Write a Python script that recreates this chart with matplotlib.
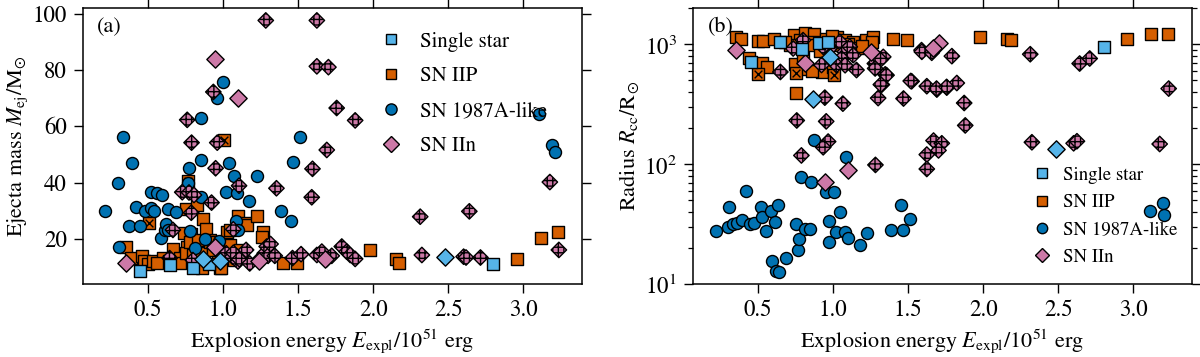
import matplotlib
matplotlib.use("Agg")
import matplotlib.pyplot as plt
from matplotlib.lines import Line2D
import numpy as np

plt.rcParams['font.family'] = ['STIXGeneral', 'DejaVu Serif']
plt.rcParams['mathtext.fontset'] = 'stix'
plt.rcParams['hatch.linewidth'] = 1.0

C_STAR = '#56B4E9'
C_IIP = '#D55E00'
C_87A = '#0072B2'
C_IIN = '#CC79A7'

# ---------------- Panel (a): ejecta mass ----------------
a_star_sq_x = [0.45, 0.645, 0.80, 0.91, 2.80]
a_star_sq_y = [8.6, 10.6, 9.7, 11.0, 11.1]
a_star_dia_x = [0.866, 0.98, 2.48]
a_star_dia_y = [13.0, 12.3, 13.7]

a_iip_x = [0.356, 0.385, 0.458, 0.474, 0.50, 0.536, 0.598, 0.669, 0.714, 0.711,
           0.738, 0.751, 0.758, 0.756, 0.789, 0.778, 0.80, 0.825, 0.834, 0.845,
           0.856, 0.869, 0.885, 0.858, 0.911, 0.914, 0.936, 0.956, 0.967, 0.98,
           0.989, 1.011, 1.027, 1.045, 1.047, 1.074, 1.102, 1.111, 1.145, 1.158,
           1.225, 1.269, 1.258, 1.402, 1.491, 1.976, 2.153, 2.175, 2.958, 3.118,
           3.229, 0.64, 0.56, 1.12]
a_iip_y = [17.0, 13.2, 14.0, 12.3, 11.0, 12.3, 13.1, 16.5, 13.1, 11.5,
           22.0, 30.5, 17.3, 14.9, 21.8, 19.0, 14.3, 32.1, 19.6, 10.7,
           14.9, 27.0, 23.6, 9.6, 19.6, 18.8, 16.1, 19.0, 11.9, 9.6,
           9.8, 18.5, 22.6, 17.9, 23.2, 12.5, 28.2, 16.1, 25.6, 25.0,
           28.2, 22.6, 20.8, 11.6, 11.4, 16.1, 12.9, 11.6, 13.0, 20.2,
           22.6, 12.0, 11.5, 14.2]
a_iipx_x = [0.505, 1.007, 0.765]
a_iipx_y = [25.6, 55.2, 40.5]

a_87a_x = [0.218, 0.30, 0.307, 0.336, 0.374, 0.396, 0.423, 0.445, 0.478, 0.523,
           0.538, 0.523, 0.560, 0.596, 0.589, 0.611, 0.618, 0.634, 0.634, 0.685,
           0.77, 0.774, 0.783, 0.811, 0.851, 0.851, 0.856, 0.878, 0.962, 0.974,
           1.002, 1.018, 1.04, 1.076, 1.085, 1.096, 1.10, 1.174, 1.227, 1.385,
           1.451, 1.466, 1.51, 3.102, 3.19, 3.207]
a_87a_y = [30.0, 39.8, 17.0, 56.3, 24.6, 46.9, 31.5, 24.6, 29.9, 30.9,
           29.9, 36.8, 36.2, 35.6, 20.2, 23.2, 25.3, 23.2, 30.5, 29.4,
           39.8, 45.1, 22.8, 16.9, 48.0, 63.0, 35.0, 19.9, 69.9, 19.4,
           75.9, 36.6, 46.9, 42.2, 26.5, 36.2, 23.2, 33.3, 42.2, 29.9,
           26.4, 47.5, 56.3, 64.3, 53.4, 50.7]

a_iin_x = [0.645, 0.667, 0.729, 0.762, 0.774, 0.791, 0.789, 0.807, 0.924, 0.936,
           0.951, 0.962, 1.022, 1.063, 1.069, 1.069, 1.10, 1.107, 1.109, 1.154,
           1.178, 1.25, 1.278, 1.291, 1.30, 1.317, 1.345, 1.285, 1.356, 1.463,
           1.52, 1.591, 1.596, 1.625, 1.625, 1.702, 1.625, 1.658, 1.691, 1.724,
           1.691, 1.757, 1.791, 1.824, 1.847, 1.88, 1.88, 2.313, 2.324, 2.602,
           2.618, 2.64, 2.714, 3.176, 3.236, 0.80]
a_iin_y = [13.2, 23.2, 36.6, 62.3, 36.5, 54.2, 29.3, 35.6, 32.9, 72.2,
           45.1, 54.2, 14.9, 13.7, 23.4, 15.1, 12.0, 38.9, 12.8, 16.1,
           11.3, 13.1, 14.9, 17.3, 14.0, 18.2, 14.0, 97.6, 38.0, 13.2,
           14.6, 34.8, 44.9, 97.6, 81.3, 81.0, 14.3, 15.5, 12.8, 14.0,
           51.6, 66.5, 17.3, 15.5, 14.3, 12.9, 62.1, 27.9, 14.3, 13.7,
           13.4, 29.8, 13.4, 40.2, 16.1, 12.5]
a_iin_plain_x = [0.354, 0.947, 1.10, 0.947, 1.24, 1.68]
a_iin_plain_y = [11.6, 84.0, 69.9, 17.3, 12.0, 13.0]

# ---------------- Panel (b): radius ----------------
b_star_sq_x = [0.451, 0.645, 0.796, 0.907, 0.967, 2.802]
b_star_sq_y = [711, 1033, 903, 1013, 1045, 938]
b_star_dia_x = [0.982, 0.865, 2.485]
b_star_dia_y = [783, 352, 134]

b_iip_x = [0.356, 0.385, 0.50, 0.534, 0.607, 0.738, 0.778, 0.811, 0.874, 0.867,
           1.027, 1.078, 1.134, 1.167, 1.222, 1.267, 1.256, 1.40, 1.489, 1.976,
           2.158, 2.184, 2.958, 3.118, 3.229, 0.44, 0.529, 0.745, 0.823, 0.923,
           0.754, 0.71, 0.845, 0.911, 0.68, 0.95, 1.05, 1.10, 1.19, 0.99,
           0.56, 0.86, 0.80, 1.0]
b_iip_y = [1151, 1101, 1060, 1060, 1101, 1190, 1080, 1229, 1205, 1045,
           1151, 1080, 1045, 920, 1080, 1151, 1045, 1101, 1080, 1138,
           1095, 1080, 1095, 1213, 1205, 760, 698, 689, 625, 586,
           392, 985, 985, 880, 1050, 1100, 980, 1000, 960, 1180,
           640, 600, 760, 650]
b_iipx_x = [0.50, 0.756, 1.005]
b_iipx_y = [569, 580, 551]

b_87a_x = [0.218, 0.30, 0.307, 0.334, 0.36, 0.396, 0.423, 0.445, 0.474, 0.523,
           0.529, 0.556, 0.589, 0.611, 0.636, 0.596, 0.618, 0.64, 0.685, 0.756,
           0.767, 0.774, 0.785, 0.811, 0.849, 0.851, 0.874, 0.951, 0.971, 0.971,
           1.005, 1.018, 1.045, 1.078, 1.083, 1.10, 1.178, 1.227, 1.385, 1.451,
           1.463, 1.511, 3.109, 3.195, 3.206]
b_87a_y = [27.7, 29.6, 44, 31.6, 32.5, 34.1, 60, 31.6, 32.5, 44,
           35.9, 27.6, 40.3, 33, 45.6, 15.6, 12.9, 12.7, 16.6, 31.6,
           19.1, 23.9, 77.6, 28.7, 28.7, 71.4, 159, 58, 33.7, 22.2,
           58, 26.9, 39.5, 26.9, 114, 24.4, 21.2, 26.5, 28.1, 45.6,
           28.1, 34.8, 40.8, 47.3, 37.6]

b_iin_x = [0.649, 0.734, 0.80, 0.934, 1.0, 1.045, 1.078, 1.111, 1.134, 1.056,
           0.923, 1.022, 1.156, 1.08, 1.30, 1.334, 1.278, 1.314, 1.28, 1.347,
           1.325, 1.30, 1.356, 1.318, 1.523, 1.469, 1.589, 1.591, 1.657, 1.791,
           1.517, 1.624, 1.691, 1.757, 1.824, 1.689, 1.756, 1.873, 1.88, 2.313,
           2.642, 2.709, 3.235, 2.324, 2.602, 2.624, 3.175, 1.669, 1.724, 1.702,
           1.624, 1.624, 1.282, 0.945, 1.065, 0.758, 0.954, 0.967, 0.934, 0.789]
b_iin_y = [586, 920, 1080, 950, 982, 1045, 863, 950, 809, 760,
           670, 670, 608, 667, 760, 783, 689, 740, 627, 560,
           460, 355, 551, 460, 490, 352, 891, 863, 847, 794,
           493, 446, 418, 434, 474, 426, 440, 323, 210, 824,
           689, 759, 426, 152, 149, 155, 147, 157, 149, 130,
           120, 91, 98.4, 358, 319, 231, 227, 154, 138, 118]
b_iin_plain_x = [0.354, 0.811, 1.251, 1.096, 0.947, 1.702, 1.668]
b_iin_plain_y = [897, 694, 856, 90, 71.4, 1025, 930]

# ---------------- styles ----------------
S_SQ = 70
S_CIR = 75
S_DIA = 62
EW = 1.0
HATCH = '+++'
FS = 16.5

fig = plt.figure(figsize=(12, 3.57), dpi=100)
axa = fig.add_axes([0.069, 0.2045, 0.416, 0.773])
axb = fig.add_axes([0.5775, 0.2045, 0.4158, 0.773])


def draw(ax, iip, iipx, c87, iin, iinp, ssq, sdia):
    ax.scatter(*iip, s=S_SQ, marker='s', c=C_IIP, edgecolors='k', linewidths=EW, zorder=2)
    ax.scatter(*iipx, s=S_SQ, marker='s', c=C_IIP, edgecolors='k', linewidths=EW, zorder=2)
    ax.scatter(*iipx, s=S_SQ * 0.45, marker='x', c='k', linewidths=1.0, zorder=2.1)
    ax.scatter(*c87, s=S_CIR, marker='o', c=C_87A, edgecolors='k', linewidths=EW, zorder=3)
    ax.scatter(*iin, s=S_DIA, marker='D', c=C_IIN, edgecolors='k', linewidths=EW,
               hatch=HATCH, zorder=4)
    ax.scatter(*iinp, s=S_DIA * 1.25, marker='D', c=C_IIN, edgecolors='k', linewidths=EW, zorder=4)
    ax.scatter(*ssq, s=S_SQ, marker='s', c=C_STAR, edgecolors='k', linewidths=EW, zorder=5)
    ax.scatter(*sdia, s=S_DIA * 1.25, marker='D', c=C_STAR, edgecolors='k', linewidths=EW, zorder=5)


draw(axa, (a_iip_x, a_iip_y), (a_iipx_x, a_iipx_y), (a_87a_x, a_87a_y),
     (a_iin_x, a_iin_y), (a_iin_plain_x, a_iin_plain_y),
     (a_star_sq_x, a_star_sq_y), (a_star_dia_x, a_star_dia_y))
draw(axb, (b_iip_x, b_iip_y), (b_iipx_x, b_iipx_y), (b_87a_x, b_87a_y),
     (b_iin_x, b_iin_y), (b_iin_plain_x, b_iin_plain_y),
     (b_star_sq_x, b_star_sq_y), (b_star_dia_x, b_star_dia_y))

xticks = [0.5, 1.0, 1.5, 2.0, 2.5, 3.0]
for ax in (axa, axb):
    ax.set_xlim(0.067, 3.39)
    ax.set_xticks(xticks)
    ax.set_xticklabels([f'{t:.1f}' for t in xticks])
    ax.tick_params(which='major', direction='out', length=6.5, width=1.0,
                   top=True, right=True, labelsize=FS, pad=5)
    ax.tick_params(which='minor', direction='out', length=3.5, width=0.9,
                   top=False, right=True)
    for sp in ax.spines.values():
        sp.set_linewidth(1.1)
    ax.set_xlabel(r'Explosion energy $E_\mathrm{expl}/10^{51}$ erg', fontsize=16, labelpad=4)

axa.set_ylim(4, 102)
axa.set_yticks([20, 40, 60, 80, 100])
axa.set_ylabel(r'Ejecta mass $M_\mathrm{ej}/\mathrm{M}_{\odot}$', fontsize=16, labelpad=2)

axb.set_yscale('log')
axb.set_ylim(10, 2000)
axb.set_ylabel(r'Radius $R_\mathrm{cc}/\mathrm{R}_{\odot}$', fontsize=16, labelpad=2)

axa.text(0.028, 0.93, '(a)', transform=axa.transAxes, fontsize=16, va='center', ha='left')
axb.text(0.03, 0.93, '(b)', transform=axb.transAxes, fontsize=16, va='center', ha='left')

labels = ['Single star', 'SN IIP', 'SN 1987A-like', 'SN IIn']


def handles(ms):
    return [
        Line2D([], [], ls='none', marker='s', ms=ms, mfc=C_STAR, mec='k', mew=EW),
        Line2D([], [], ls='none', marker='s', ms=ms, mfc=C_IIP, mec='k', mew=EW),
        Line2D([], [], ls='none', marker='o', ms=ms * 1.15, mfc=C_87A, mec='k', mew=EW),
        Line2D([], [], ls='none', marker='D', ms=ms * 1.1, mfc=C_IIN, mec='k', mew=EW),
    ]


axa.legend(handles(7), labels, loc='upper left', bbox_to_anchor=(0.58, 0.945),
           frameon=False, fontsize=15, labelspacing=0.72, handlelength=1.0,
           handletextpad=0.9, borderaxespad=0)
axb.legend(handles(6.5), labels, loc='lower left', bbox_to_anchor=(0.666, 0.038),
           frameon=False, fontsize=13.5, labelspacing=0.55, handlelength=1.0,
           handletextpad=0.6, borderaxespad=0)

fig.savefig('out.png', dpi=100)
